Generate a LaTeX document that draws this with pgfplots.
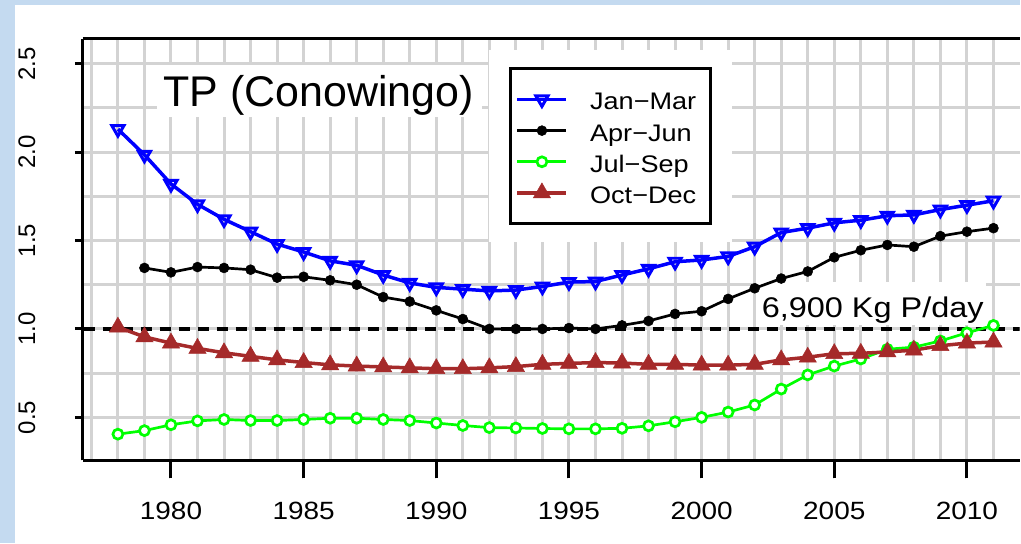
\documentclass[border=0pt]{standalone}
\usepackage{pgfplots}
\pgfplotsset{compat=1.18}
\usepackage{pgfplotstable}
\usepackage{fontspec}
\setmainfont{Liberation Sans}
\newfontfamily\rfont[FakeStretch=1.13]{Liberation Sans}
\definecolor{bgblue}{HTML}{C4DAF0}
\definecolor{gridgray}{HTML}{D3D3D3}
\definecolor{rbrown}{HTML}{A52A2A}
\definecolor{rgreen}{HTML}{00FF00}
\definecolor{rblue}{HTML}{0000FF}

\pgfplotstableread{
year jm aj js od
1978 2.13 nan 0.405 1.01
1979 1.985 1.345 0.425 0.955
1980 1.82 1.32 0.458 0.92
1981 1.705 1.35 0.48 0.89
1982 1.62 1.345 0.488 0.865
1983 1.55 1.335 0.482 0.845
1984 1.48 1.29 0.482 0.825
1985 1.435 1.295 0.488 0.81
1986 1.385 1.275 0.495 0.797
1987 1.36 1.25 0.495 0.79
1988 1.305 1.18 0.488 0.785
1989 1.26 1.155 0.482 0.78
1990 1.235 1.105 0.468 0.775
1991 1.225 1.056 0.454 0.775
1992 1.215 1.0 0.442 0.78
1993 1.22 1.0 0.44 0.787
1994 1.24 1.0 0.437 0.80
1995 1.265 1.005 0.435 0.805
1996 1.268 1.0 0.435 0.81
1997 1.305 1.02 0.438 0.807
1998 1.34 1.045 0.452 0.80
1999 1.38 1.085 0.475 0.80
2000 1.39 1.10 0.50 0.795
2001 1.41 1.17 0.53 0.795
2002 1.465 1.23 0.57 0.80
2003 1.545 1.285 0.66 0.825
2004 1.57 1.325 0.74 0.84
2005 1.60 1.405 0.79 0.86
2006 1.615 1.445 0.83 0.862
2007 1.64 1.475 0.885 0.87
2008 1.645 1.465 0.897 0.88
2009 1.675 1.525 0.932 0.905
2010 1.70 1.55 0.978 0.92
2011 1.725 1.57 1.02 0.926
}\datatable

\pgfplotsset{
  common/.style={
    at={(83pt,83pt)}, anchor=south west, scale only axis,
    width=938pt, height=422pt,
    xmin=1976.68, xmax=2011.982, ymin=0.257, ymax=2.64,
    axis x line=box, axis y line=left,
    axis line style={-, line width=3pt, black},
  }
}

\begin{document}
\begin{tikzpicture}
\fill[bgblue] (0pt,0pt) rectangle (1021pt,544pt);
\fill[white] (15pt,0pt) rectangle (1021pt,539pt);

\begin{axis}[common,
  xtick={1977,1978,...,2011}, ytick={0.5,0.75,...,2.5},
  xticklabels={}, yticklabels={},
  major tick length=0pt,
  grid=major, major grid style={draw=gridgray, line width=3pt},
  legend cell align=left,
  legend image code/.code={\draw[mark repeat=2,mark phase=2,#1] plot coordinates {(0pt,0pt)(24.5pt,0pt)(49pt,0pt)};},
  legend style={at={(0.4552,0.9336)}, anchor=north west,
    draw=black, line width=3pt, fill=white,
    inner xsep=5pt, inner ysep=15.5pt,
    row sep=0pt, column sep=21pt,
    font=\rfont\fontsize{24}{29}\selectfont,
    nodes={inner sep=1pt, text height=25pt, text depth=4.2pt}},
]
\fill[white] (axis cs:1992.0,1.494) rectangle (axis cs:2001.14,2.578);
\fill[white] (axis cs:1979.47,2.199) rectangle (axis cs:1991.74,2.493);
\fill[white] (axis cs:2002.08,1.02) rectangle (axis cs:2010.70,1.265);
\node[anchor=base, inner sep=0pt, font=\fontsize{43}{50}\selectfont] at (axis cs:1985.56,2.258) {TP (Conowingo)};
\node[anchor=base, inner sep=0pt, xscale=1.14, font=\fontsize{28.5}{34}\selectfont] at (axis cs:2006.45,1.064) {6,900 Kg P/day};

\addplot[forget plot, black, line width=3.5pt, dash pattern=on 11pt off 8pt] coordinates {(1976,1) (2013,1)};

\addplot[rblue, line width=3.5pt, mark=triangle, mark size=7pt, mark options={rotate=180, fill=white, line width=3pt, solid}] table[x=year,y=jm]{\datatable};
\addlegendentry{Jan−Mar\hspace*{8pt}}
\addplot[black, line width=2.7pt, mark=*, mark size=5pt, mark options={line width=0.5pt, solid}] table[x=year,y=aj]{\datatable};
\addlegendentry{Apr−Jun}
\addplot[rgreen, line width=2.7pt, mark=*, mark size=5pt, mark options={fill=white, line width=2.7pt, solid}] table[x=year,y=js]{\datatable};
\addlegendentry{Jul−Sep}
\addplot[rbrown, line width=3.5pt, mark=triangle*, mark size=10pt, mark options={line width=0.5pt, solid}] table[x=year,y=od]{\datatable};
\addlegendentry{Oct−Dec}
\end{axis}

% y ticks and labels, plus x tick marks as extra ticks
\begin{axis}[common,
  ytick={0.5,1,...,2.5}, yticklabels={0.5,1.0,1.5,2.0,2.5},
  xtick=\empty, ytick pos=left, xtick pos=bottom, tick align=outside,
  major tick length=8pt, every tick/.style={line width=3pt, black},
  yticklabel style={font=\fontsize{24}{29}\selectfont, anchor=center, xshift=-48pt, rotate=90},
  extra x ticks={1980,1985,...,2010},
  extra x tick labels={},
  extra x tick style={major tick length=18pt, tick align=outside, tick style={line width=3pt, black}},
]
\end{axis}

% x ticks (strip below the axis) and x tick labels
\begin{axis}[
  at={(83pt,65pt)}, anchor=south west, scale only axis,
  width=938pt, height=18pt,
  xmin=1976.68, xmax=2011.982, ymin=0, ymax=1,
  xtick={1980,1985,...,2010}, xticklabels={1980,1985,1990,1995,2000,2005,2010},
  ytick=\empty, major tick length=0pt,
  axis line style={draw=none},
  grid=major, major grid style={draw=black, line width=3pt},
  xticklabel style={font=\fontsize{25}{30}\selectfont, anchor=center, yshift=-33pt, xscale=1.12},
]
\end{axis}
\end{tikzpicture}
\end{document}
